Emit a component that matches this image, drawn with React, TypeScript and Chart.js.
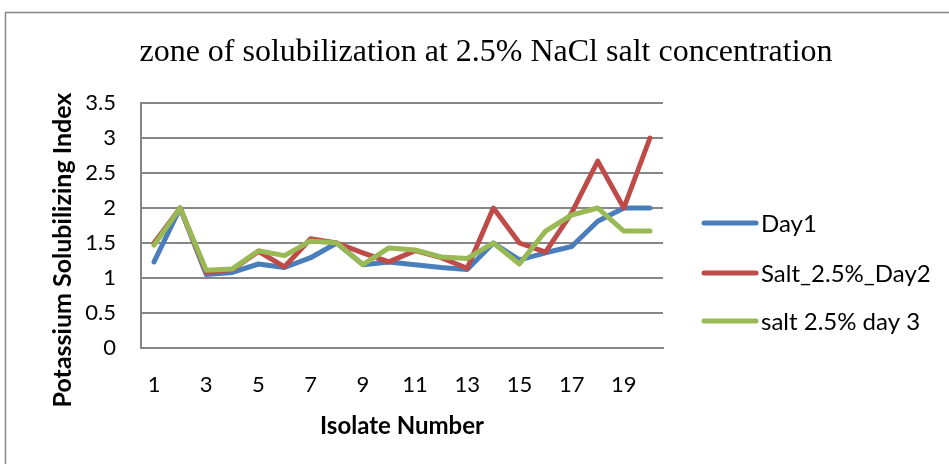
import React, { useEffect, useRef } from "react";
import { Chart, registerables } from "chart.js";

Chart.register(...registerables);

const categories: string[] = [
  "1", "2", "3", "4", "5", "6", "7", "8", "9", "10",
  "11", "12", "13", "14", "15", "16", "17", "18", "19", "20",
];
const day1: number[] = [1.23, 2.0, 1.05, 1.08, 1.2, 1.15, 1.29, 1.5, 1.19, 1.23, 1.19, 1.15, 1.12, 1.5, 1.26, 1.36, 1.45, 1.81, 2.0, 2.0];
const saltDay2: number[] = [1.5, 2.0, 1.08, 1.12, 1.38, 1.16, 1.56, 1.5, 1.36, 1.23, 1.39, 1.29, 1.14, 2.0, 1.5, 1.37, 1.93, 2.67, 2.0, 3.0];
const saltDay3: number[] = [1.47, 2.0, 1.11, 1.13, 1.39, 1.32, 1.53, 1.5, 1.19, 1.43, 1.4, 1.3, 1.28, 1.5, 1.2, 1.67, 1.9, 2.0, 1.67, 1.67];
const seriesNames: string[] = ["Day1", "Salt_2.5%_Day2", "salt 2.5% day 3"];
const seriesColors: string[] = ["#4A7EBB", "#BE4B48", "#98B954"];
const titleText = "zone of solubilization at 2.5% NaCl salt concentration";
const yTitle = "Potassium Solubilizing Index";
const xTitle = "Isolate Number";

const W = 949;
const H = 464;
const AREA = { left: 141, right: 663, top: 103, bottom: 348 };

const decorPlugin = {
  id: "decor",
  beforeDraw(chart: any) {
    const ctx = chart.ctx;
    ctx.save();
    ctx.fillStyle = "#ffffff";
    ctx.fillRect(0, 0, W, H);
    ctx.strokeStyle = "#868686";
    ctx.lineWidth = 1.5;
    ctx.strokeRect(5.5, 12.5, 1200, 1200);
    ctx.restore();
  },
  afterDraw(chart: any) {
    const ctx = chart.ctx;
    ctx.save();
    // title
    ctx.fillStyle = "#000000";
    ctx.font = "32px 'Liberation Serif'";
    ctx.textAlign = "center";
    ctx.textBaseline = "middle";
    ctx.fillText(titleText, 486, 53);
    // y axis title
    ctx.save();
    ctx.translate(63, 250);
    ctx.rotate(-Math.PI / 2);
    ctx.font = "bold 25px Lato";
    ctx.textAlign = "center";
    ctx.textBaseline = "middle";
    ctx.fillText(yTitle, 0, 0);
    ctx.restore();
    // legend
    const rows = [223, 273, 321];
    chart.data.datasets.forEach((ds: any, i: number) => {
      const y = rows[i];
      ctx.strokeStyle = ds.borderColor;
      ctx.lineWidth = 5;
      ctx.lineCap = "round";
      ctx.beginPath();
      ctx.moveTo(704, y);
      ctx.lineTo(756, y);
      ctx.stroke();
      ctx.fillStyle = "#000000";
      ctx.font = "24px Lato";
      ctx.textAlign = "left";
      ctx.textBaseline = "middle";
      ctx.fillText(ds.label, 761, y + 1);
    });
    ctx.restore();
  },
};

export default function App() {
  const ref = useRef<HTMLCanvasElement | null>(null);

  useEffect(() => {
    if (!ref.current) return;
    const orders = [3, 2, 1];
    const datasets = [day1, saltDay2, saltDay3].map((d, i) => ({
      label: seriesNames[i],
      data: d,
      order: orders[i],
      borderColor: seriesColors[i],
      backgroundColor: seriesColors[i],
      borderWidth: 5,
      pointRadius: 0,
      tension: 0,
      borderJoinStyle: "round" as const,
      borderCapStyle: "round" as const,
    }));
    const chart = new Chart(ref.current, {
      type: "line",
      data: { labels: categories, datasets },
      plugins: [decorPlugin],
      options: {
        responsive: false,
        animation: false,
        layout: {
          padding: { left: 10, right: W - AREA.right, top: AREA.top, bottom: 16 },
        },
        plugins: {
          legend: { display: false },
          title: { display: false },
          tooltip: { enabled: false },
        },
        scales: {
          x: {
            type: "category",
            offset: true,
            grid: { display: false, drawTicks: false },
            border: { display: true, color: "#868686", width: 2 },
            ticks: {
              autoSkip: false,
              maxRotation: 0,
              padding: 24,
              color: "#000000",
              font: { family: "Lato", size: 22 },
              callback: function (this: any, _v: any, idx: number) {
                return idx % 2 === 0 ? categories[idx] : "";
              },
            },
            title: {
              display: true,
              text: xTitle,
              color: "#000000",
              font: { family: "Lato", size: 24, weight: "bold" },
              padding: { top: 0, bottom: 7 },
            },
            afterFit(scale: any) {
              scale.height = H - 16 - AREA.bottom;
            },
          },
          y: {
            min: 0,
            max: 3.5,
            ticks: {
              stepSize: 0.5,
              padding: 25,
              color: "#000000",
              font: { family: "Lato", size: 22 },
              callback: (v: any) => String(Number(v)),
            },
            grid: { color: "#868686", lineWidth: 2, drawTicks: false },
            border: { display: true, color: "#868686", width: 2 },
            title: { display: false },
            afterFit(scale: any) {
              scale.width = AREA.left - 10;
            },
          },
        },
      },
    });
    return () => chart.destroy();
  }, []);

  return (
    <div style={{ position: "absolute", left: 0, top: 0, width: W, height: H, background: "#fff" }}>
      <canvas ref={ref} width={W} height={H} style={{ width: W, height: H, display: "block" }} />
    </div>
  );
}
